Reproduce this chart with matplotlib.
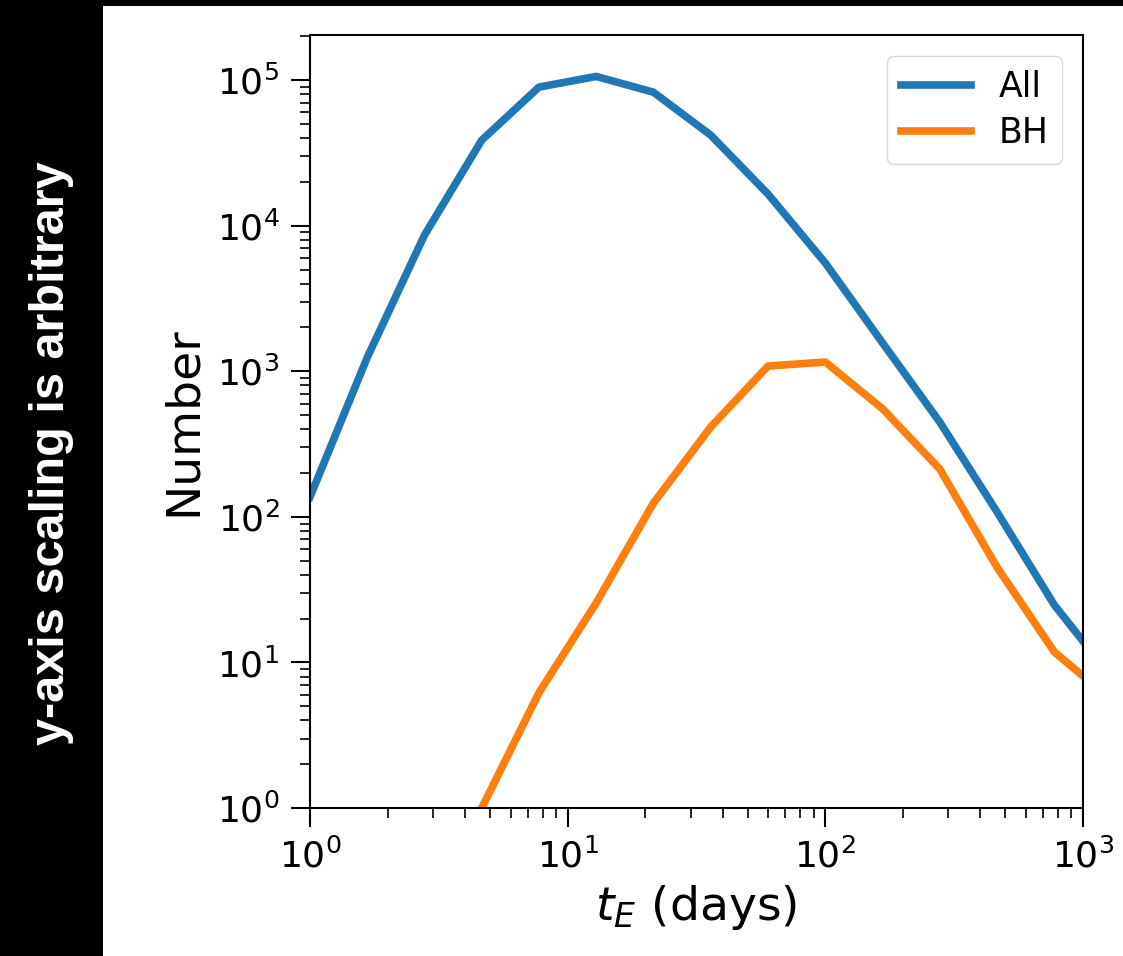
import matplotlib
matplotlib.use("Agg")
import matplotlib.pyplot as plt
from matplotlib.patches import Rectangle

# Einstein crossing time bins (days)
t_E = [1.0, 1.67, 2.78, 4.64, 7.74, 12.9, 21.5, 35.9, 59.9, 100.0,
       167.0, 278.0, 464.0, 774.0, 1292.0]

# counts per bin (arbitrary scaling)
n_all = [137, 1250, 8600, 38700, 89600, 106000, 82700, 41900, 16500, 5540,
         1560, 448, 108, 24.8, 7.9]
n_bh = [0.02, 0.1, 0.3, 1.0, 6.2, 25.6, 124, 414, 1086, 1157,
        551, 213, 45, 11.8, 5.5]

series_labels = ["All", "BH"]

W, H = 1123, 956
fig = plt.figure(figsize=(W / 100, H / 100), dpi=100)

# black frame strips (left and top)
fig.patches.append(Rectangle((0, 0), 103 / W, 1, transform=fig.transFigure,
                             facecolor="black", edgecolor="none", zorder=0))
fig.patches.append(Rectangle((0, 1 - 6 / H), 1, 6 / H, transform=fig.transFigure,
                             facecolor="black", edgecolor="none", zorder=0))
fig.text(52 / W, 1 - 453 / H, "y-axis scaling is arbitrary", rotation=90,
         ha="center", va="center", color="white", fontsize=35,
         fontweight="bold", family="Liberation Sans")

ax = fig.add_axes([310 / W, (H - 808) / H, 773 / W, 773 / H])
ax.plot(t_E, n_all, color="#1f77b4", lw=5.5, label=series_labels[0])
ax.plot(t_E, n_bh, color="#ff7f0e", lw=5.5, label=series_labels[1])

ax.set_xscale("log")
ax.set_yscale("log")
ax.set_xlim(1, 1000)
ax.set_ylim(1, 10 ** 5.31)

ax.tick_params(axis="both", which="major", labelsize=26, length=14, width=1.5, pad=8)
ax.tick_params(axis="both", which="minor", length=7, width=1.2)
for sp in ax.spines.values():
    sp.set_linewidth(1.5)

ax.set_xlabel("$t_E$ (days)", fontsize=34, labelpad=6)
ax.set_ylabel("Number", fontsize=34, labelpad=8)

ax.legend(loc="upper right", fontsize=25, handlelength=2.0, borderaxespad=0.6,
          labelspacing=0.35)

fig.savefig("out.png", dpi=100)
